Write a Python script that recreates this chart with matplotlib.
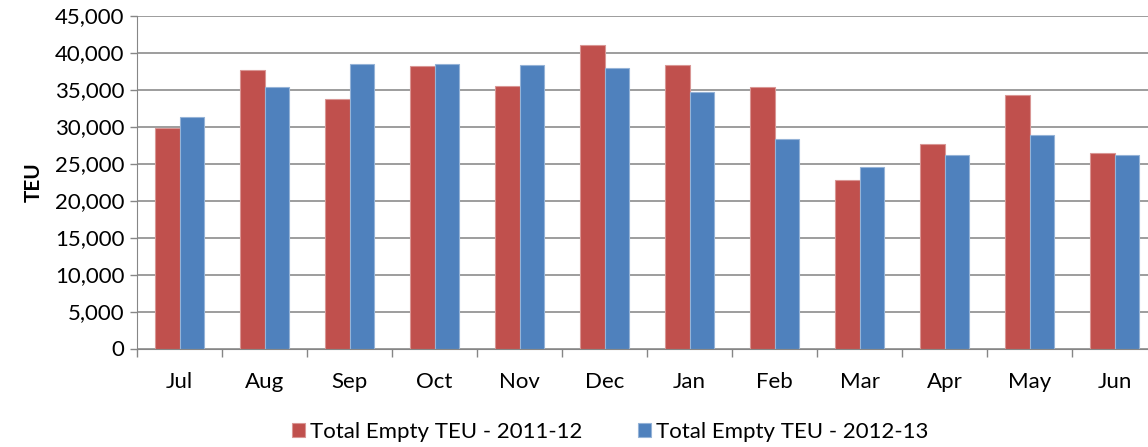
import numpy as np
import matplotlib
matplotlib.use("Agg")
from matplotlib import pyplot as plt
from matplotlib.ticker import FuncFormatter

months = ["Jul", "Aug", "Sep", "Oct", "Nov", "Dec", "Jan", "Feb", "Mar", "Apr", "May", "Jun"]
teu_2011_12 = [29750, 37600, 33700, 38150, 35450, 41000, 38300, 35300, 22750, 27600, 34200, 26400]
teu_2012_13 = [31250, 35300, 38400, 38500, 38250, 37850, 34600, 28350, 24500, 26200, 28800, 26100]
series_names = ["Total Empty TEU - 2011-12", "Total Empty TEU - 2012-13"]

plt.rcParams['font.family'] = ['Lato', 'DejaVu Sans']

fig = plt.figure(figsize=(11.48, 4.47), dpi=100)
# right edge of the plot runs past the picture, like the original
ax = fig.add_axes([137 / 1148, 98.5 / 447, 1020 / 1148, 333 / 447])

x = np.arange(len(months))
w = 1 / 3.5
ax.bar(x - w / 2, teu_2011_12, w, color="#C0504D", edgecolor="#D99694", linewidth=0.8,
       label=series_names[0], zorder=3)
ax.bar(x + w / 2, teu_2012_13, w, color="#4F81BD", edgecolor="#95B3D7", linewidth=0.8,
       label=series_names[1], zorder=3)

ax.set_xlim(-0.5, len(months) - 0.5)
ax.set_ylim(0, 45000)
ax.set_yticks(np.arange(0, 45001, 5000))
ax.yaxis.set_major_formatter(FuncFormatter(lambda v, p: f"{int(v):,}"))
ax.set_xticks(x)
ax.set_xticklabels(months)
ax.set_xticks(np.arange(-0.5, len(months), 1), minor=True)
ax.tick_params(axis="x", which="major", length=0, pad=17, labelsize=16)
ax.tick_params(axis="x", which="minor", length=6, color="#868686", width=1)
ax.tick_params(axis="y", length=5, color="#868686", width=1, labelsize=16, pad=4)

ax.grid(axis="y", color="#8C8C8C", linewidth=1.2, zorder=0)
for s in ["top", "right"]:
    ax.spines[s].set_visible(False)
ax.spines["left"].set_color("#868686")
ax.spines["bottom"].set_color("#868686")
ax.spines["bottom"].set_zorder(4)

ax.set_ylabel("TEU", fontsize=15, fontweight="bold", labelpad=8)

fig.legend(loc="center", bbox_to_anchor=(610 / 1148, 1 - 432 / 447), ncol=2, frameon=False,
           fontsize=16, handlelength=0.6, handleheight=0.6, handletextpad=0.2, columnspacing=2.5)

fig.savefig("out.png", dpi=100)
